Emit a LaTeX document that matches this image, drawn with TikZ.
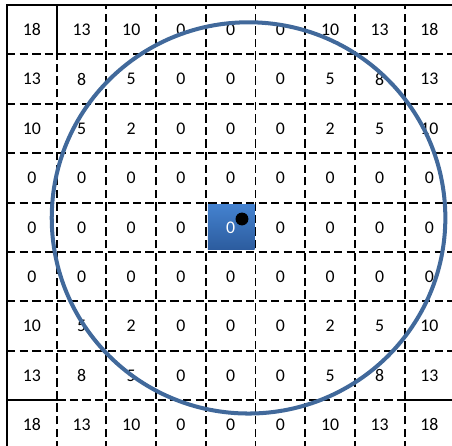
\documentclass[tikz,border=0pt]{standalone}
\usepackage{fontspec}
\setmainfont{Carlito}
\usepackage{tikz}
\definecolor{ringblue}{RGB}{65,105,155}
\definecolor{celltop}{RGB}{68,130,208}
\definecolor{cellbot}{RGB}{44,92,158}

\begin{document}
\begin{tikzpicture}[x=1cm,y=0.994cm,
    gridline/.style={line width=1.1pt,dash pattern=on 4.8pt off 2.4pt},
    frameline/.style={line width=1.2pt},
    val/.style={font=\fontsize{10.2}{12}\selectfont}]
\useasboundingbox (-0.141,0.073) rectangle (8.954,9.101);

% centre cell
\shade[top color=celltop,bottom color=cellbot] (4.04,4.05) rectangle (4.98,4.97);

% grid
\foreach \i in {1,...,8} {
  \draw[gridline] (\i,0) -- (\i,9);
  \draw[gridline] (0,\i) -- (9,\i);
}

% frame and solid corner edges
\draw[frameline] (0,0) rectangle (9,9);
\draw[frameline] (1,9) -- (1,8);
\draw[frameline] (0,1) -- (1,1) (8,1) -- (9,1);

% values
\foreach \row [count=\r from 0] in {{18,13,10,0,0,0,10,13,18},
    {13,8,5,0,0,0,5,8,13},{10,5,2,0,0,0,2,5,10},
    {0,0,0,0,0,0,0,0,0},{0,0,0,0,0,0,0,0,0},{0,0,0,0,0,0,0,0,0},
    {10,5,2,0,0,0,2,5,10},{13,8,5,0,0,0,5,8,13},
    {18,13,10,0,0,0,10,13,18}}
  \foreach \v [count=\c from 0] in \row {
    \ifnum\r\c=44 \def\tc{white}\else\def\tc{black}\fi
    \node[val,text=\tc] (n\r\c) at (\c+0.5,8.5-\r) {\v};
  }

% circle
\draw[ringblue,line width=2.3pt] (4.86,4.69) ellipse (3.96 and 3.96);

% dot
\fill (4.728,4.668) circle (0.13);
\end{tikzpicture}
\end{document}
